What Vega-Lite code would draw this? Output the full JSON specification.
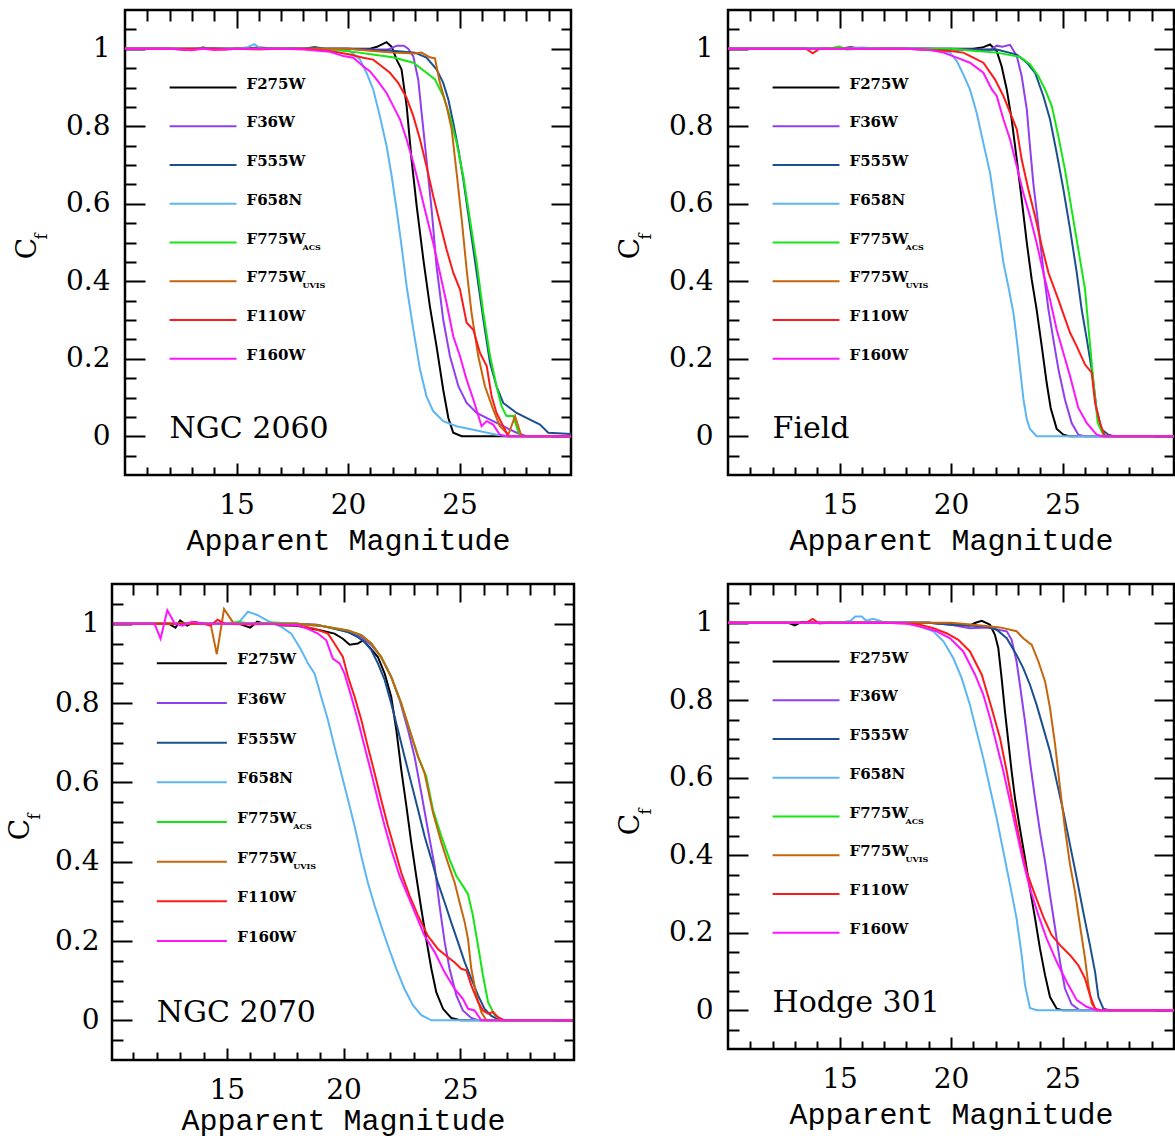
{
"$schema":"https://vega.github.io/schema/vega-lite/v6.json",
"padding":{"left":6,"top":7,"right":0,"bottom":6},
"config":{"view":{"stroke":"#000","strokeWidth":2.5},
"axis":{"domain":false,"grid":false,"tickColor":"#000","tickWidth":2,"labelColor":"#000","labelFont":"DejaVu Serif","labelFontSize":28,"titleFont":"DejaVu Serif","titleFontWeight":"normal","titleColor":"#000","titleFontSize":28,"zindex":1,"labelOverlap":false,"labelFlush":false}},
"datasets":{
"leg":[{"f":"F275W","t":"F275W","s":"","r":1},{"f":"F36W","t":"F36W","s":"","r":2},{"f":"F555W","t":"F555W","s":"","r":3},{"f":"F658N","t":"F658N","s":"","r":4},{"f":"F775W_ACS","t":"F775W","s":"ACS","r":5},{"f":"F775W_UVIS","t":"F775W","s":"UVIS","r":6},{"f":"F110W","t":"F110W","s":"","r":7},{"f":"F160W","t":"F160W","s":"","r":8}],
"cf":[
{"p":"A","f":"F275W","m":10,"c":1},{"p":"A","f":"F275W","m":12,"c":1},{"p":"A","f":"F275W","m":13,"c":0.997},{"p":"A","f":"F275W","m":13.5,"c":1.003},{"p":"A","f":"F275W","m":14,"c":0.998},{"p":"A","f":"F275W","m":15,"c":1},{"p":"A","f":"F275W","m":16,"c":1},{"p":"A","f":"F275W","m":17,"c":1.002},{"p":"A","f":"F275W","m":18,"c":1},{"p":"A","f":"F275W","m":18.5,"c":1.004},{"p":"A","f":"F275W","m":19,"c":1},{"p":"A","f":"F275W","m":20,"c":1},{"p":"A","f":"F275W","m":21,"c":1},{"p":"A","f":"F275W","m":21.3,"c":1.005},{"p":"A","f":"F275W","m":21.73,"c":1.017},{"p":"A","f":"F275W","m":21.96,"c":1.005},{"p":"A","f":"F275W","m":22.18,"c":0.972},{"p":"A","f":"F275W","m":22.4,"c":0.947},{"p":"A","f":"F275W","m":22.63,"c":0.852},{"p":"A","f":"F275W","m":22.85,"c":0.714},{"p":"A","f":"F275W","m":23.08,"c":0.594},{"p":"A","f":"F275W","m":23.38,"c":0.456},{"p":"A","f":"F275W","m":23.67,"c":0.336},{"p":"A","f":"F275W","m":23.97,"c":0.232},{"p":"A","f":"F275W","m":24.27,"c":0.12},{"p":"A","f":"F275W","m":24.5,"c":0.047},{"p":"A","f":"F275W","m":24.72,"c":0.009},{"p":"A","f":"F275W","m":25.1,"c":0},{"p":"A","f":"F275W","m":30,"c":0},
{"p":"A","f":"F36W","m":10,"c":1},{"p":"A","f":"F36W","m":13,"c":1},{"p":"A","f":"F36W","m":14,"c":1.002},{"p":"A","f":"F36W","m":15,"c":1},{"p":"A","f":"F36W","m":16,"c":1.002},{"p":"A","f":"F36W","m":17,"c":1},{"p":"A","f":"F36W","m":18,"c":1},{"p":"A","f":"F36W","m":19,"c":1},{"p":"A","f":"F36W","m":20,"c":1},{"p":"A","f":"F36W","m":21,"c":0.998},{"p":"A","f":"F36W","m":21.8,"c":0.998},{"p":"A","f":"F36W","m":22.2,"c":1.008},{"p":"A","f":"F36W","m":22.5,"c":1.008},{"p":"A","f":"F36W","m":22.7,"c":1},{"p":"A","f":"F36W","m":22.93,"c":0.98},{"p":"A","f":"F36W","m":23.15,"c":0.92},{"p":"A","f":"F36W","m":23.3,"c":0.835},{"p":"A","f":"F36W","m":23.52,"c":0.714},{"p":"A","f":"F36W","m":23.75,"c":0.585},{"p":"A","f":"F36W","m":23.97,"c":0.439},{"p":"A","f":"F36W","m":24.27,"c":0.301},{"p":"A","f":"F36W","m":24.57,"c":0.207},{"p":"A","f":"F36W","m":24.95,"c":0.129},{"p":"A","f":"F36W","m":25.32,"c":0.086},{"p":"A","f":"F36W","m":25.77,"c":0.06},{"p":"A","f":"F36W","m":26.37,"c":0.043},{"p":"A","f":"F36W","m":26.96,"c":0.026},{"p":"A","f":"F36W","m":27.56,"c":0.009},{"p":"A","f":"F36W","m":28,"c":0},{"p":"A","f":"F36W","m":30,"c":0},
{"p":"A","f":"F555W","m":10,"c":1},{"p":"A","f":"F555W","m":15,"c":1},{"p":"A","f":"F555W","m":16,"c":1.003},{"p":"A","f":"F555W","m":17,"c":1},{"p":"A","f":"F555W","m":18,"c":1},{"p":"A","f":"F555W","m":19,"c":1},{"p":"A","f":"F555W","m":20,"c":1},{"p":"A","f":"F555W","m":21,"c":0.997},{"p":"A","f":"F555W","m":22,"c":0.995},{"p":"A","f":"F555W","m":23,"c":0.99},{"p":"A","f":"F555W","m":23.52,"c":0.977},{"p":"A","f":"F555W","m":23.97,"c":0.947},{"p":"A","f":"F555W","m":24.27,"c":0.912},{"p":"A","f":"F555W","m":24.5,"c":0.869},{"p":"A","f":"F555W","m":24.72,"c":0.809},{"p":"A","f":"F555W","m":24.95,"c":0.74},{"p":"A","f":"F555W","m":25.17,"c":0.663},{"p":"A","f":"F555W","m":25.47,"c":0.542},{"p":"A","f":"F555W","m":25.77,"c":0.422},{"p":"A","f":"F555W","m":26.07,"c":0.301},{"p":"A","f":"F555W","m":26.37,"c":0.189},{"p":"A","f":"F555W","m":26.66,"c":0.129},{"p":"A","f":"F555W","m":26.96,"c":0.086},{"p":"A","f":"F555W","m":27.56,"c":0.06},{"p":"A","f":"F555W","m":28.16,"c":0.043},{"p":"A","f":"F555W","m":28.61,"c":0.03},{"p":"A","f":"F555W","m":28.98,"c":0.009},{"p":"A","f":"F555W","m":30,"c":0.006},
{"p":"A","f":"F658N","m":10,"c":1},{"p":"A","f":"F658N","m":14,"c":1},{"p":"A","f":"F658N","m":15,"c":1},{"p":"A","f":"F658N","m":15.5,"c":1.004},{"p":"A","f":"F658N","m":15.8,"c":1.012},{"p":"A","f":"F658N","m":16.1,"c":1},{"p":"A","f":"F658N","m":17,"c":1.002},{"p":"A","f":"F658N","m":18,"c":1},{"p":"A","f":"F658N","m":19,"c":1},{"p":"A","f":"F658N","m":20.09,"c":0.994},{"p":"A","f":"F658N","m":20.54,"c":0.972},{"p":"A","f":"F658N","m":20.83,"c":0.938},{"p":"A","f":"F658N","m":21.13,"c":0.895},{"p":"A","f":"F658N","m":21.43,"c":0.826},{"p":"A","f":"F658N","m":21.73,"c":0.749},{"p":"A","f":"F658N","m":21.96,"c":0.671},{"p":"A","f":"F658N","m":22.18,"c":0.585},{"p":"A","f":"F658N","m":22.4,"c":0.491},{"p":"A","f":"F658N","m":22.63,"c":0.387},{"p":"A","f":"F658N","m":22.93,"c":0.275},{"p":"A","f":"F658N","m":23.23,"c":0.172},{"p":"A","f":"F658N","m":23.52,"c":0.103},{"p":"A","f":"F658N","m":23.82,"c":0.065},{"p":"A","f":"F658N","m":24.27,"c":0.039},{"p":"A","f":"F658N","m":24.87,"c":0.026},{"p":"A","f":"F658N","m":25.62,"c":0.017},{"p":"A","f":"F658N","m":26.66,"c":0.004},{"p":"A","f":"F658N","m":27.2,"c":0},{"p":"A","f":"F658N","m":30,"c":0},
{"p":"A","f":"F775W_ACS","m":10,"c":1},{"p":"A","f":"F775W_ACS","m":15,"c":1},{"p":"A","f":"F775W_ACS","m":16,"c":1},{"p":"A","f":"F775W_ACS","m":17,"c":1},{"p":"A","f":"F775W_ACS","m":18,"c":1},{"p":"A","f":"F775W_ACS","m":19,"c":1},{"p":"A","f":"F775W_ACS","m":19.5,"c":0.997},{"p":"A","f":"F775W_ACS","m":20.5,"c":0.99},{"p":"A","f":"F775W_ACS","m":21.1,"c":0.985},{"p":"A","f":"F775W_ACS","m":22,"c":0.978},{"p":"A","f":"F775W_ACS","m":22.93,"c":0.964},{"p":"A","f":"F775W_ACS","m":23.52,"c":0.938},{"p":"A","f":"F775W_ACS","m":23.9,"c":0.921},{"p":"A","f":"F775W_ACS","m":24.27,"c":0.878},{"p":"A","f":"F775W_ACS","m":24.57,"c":0.826},{"p":"A","f":"F775W_ACS","m":24.87,"c":0.757},{"p":"A","f":"F775W_ACS","m":25.17,"c":0.671},{"p":"A","f":"F775W_ACS","m":25.47,"c":0.559},{"p":"A","f":"F775W_ACS","m":25.77,"c":0.448},{"p":"A","f":"F775W_ACS","m":26.07,"c":0.318},{"p":"A","f":"F775W_ACS","m":26.37,"c":0.207},{"p":"A","f":"F775W_ACS","m":26.66,"c":0.129},{"p":"A","f":"F775W_ACS","m":26.89,"c":0.077},{"p":"A","f":"F775W_ACS","m":27.11,"c":0.052},{"p":"A","f":"F775W_ACS","m":27.41,"c":0.052},{"p":"A","f":"F775W_ACS","m":27.7,"c":0},{"p":"A","f":"F775W_ACS","m":30,"c":0},
{"p":"A","f":"F775W_UVIS","m":10,"c":1},{"p":"A","f":"F775W_UVIS","m":15,"c":1},{"p":"A","f":"F775W_UVIS","m":16,"c":0.998},{"p":"A","f":"F775W_UVIS","m":17,"c":1},{"p":"A","f":"F775W_UVIS","m":18,"c":1},{"p":"A","f":"F775W_UVIS","m":19,"c":1},{"p":"A","f":"F775W_UVIS","m":20,"c":1},{"p":"A","f":"F775W_UVIS","m":21,"c":0.995},{"p":"A","f":"F775W_UVIS","m":22,"c":0.99},{"p":"A","f":"F775W_UVIS","m":23,"c":0.988},{"p":"A","f":"F775W_UVIS","m":23.3,"c":0.99},{"p":"A","f":"F775W_UVIS","m":23.67,"c":0.978},{"p":"A","f":"F775W_UVIS","m":23.9,"c":0.975},{"p":"A","f":"F775W_UVIS","m":24.12,"c":0.912},{"p":"A","f":"F775W_UVIS","m":24.42,"c":0.852},{"p":"A","f":"F775W_UVIS","m":24.65,"c":0.792},{"p":"A","f":"F775W_UVIS","m":24.87,"c":0.68},{"p":"A","f":"F775W_UVIS","m":25.1,"c":0.559},{"p":"A","f":"F775W_UVIS","m":25.32,"c":0.43},{"p":"A","f":"F775W_UVIS","m":25.54,"c":0.318},{"p":"A","f":"F775W_UVIS","m":25.84,"c":0.207},{"p":"A","f":"F775W_UVIS","m":26.14,"c":0.129},{"p":"A","f":"F775W_UVIS","m":26.51,"c":0.069},{"p":"A","f":"F775W_UVIS","m":26.81,"c":0.026},{"p":"A","f":"F775W_UVIS","m":27.19,"c":0.004},{"p":"A","f":"F775W_UVIS","m":27.49,"c":0.052},{"p":"A","f":"F775W_UVIS","m":27.78,"c":0},{"p":"A","f":"F775W_UVIS","m":30,"c":0},
{"p":"A","f":"F110W","m":10,"c":1},{"p":"A","f":"F110W","m":14,"c":1},{"p":"A","f":"F110W","m":14.5,"c":0.998},{"p":"A","f":"F110W","m":15,"c":1},{"p":"A","f":"F110W","m":16,"c":1},{"p":"A","f":"F110W","m":17,"c":1},{"p":"A","f":"F110W","m":18,"c":1},{"p":"A","f":"F110W","m":19.19,"c":0.994},{"p":"A","f":"F110W","m":20.09,"c":0.985},{"p":"A","f":"F110W","m":20.68,"c":0.977},{"p":"A","f":"F110W","m":21.13,"c":0.972},{"p":"A","f":"F110W","m":21.51,"c":0.955},{"p":"A","f":"F110W","m":21.88,"c":0.938},{"p":"A","f":"F110W","m":22.25,"c":0.912},{"p":"A","f":"F110W","m":22.63,"c":0.873},{"p":"A","f":"F110W","m":22.93,"c":0.826},{"p":"A","f":"F110W","m":23.23,"c":0.766},{"p":"A","f":"F110W","m":23.52,"c":0.697},{"p":"A","f":"F110W","m":23.82,"c":0.62},{"p":"A","f":"F110W","m":24.12,"c":0.551},{"p":"A","f":"F110W","m":24.42,"c":0.482},{"p":"A","f":"F110W","m":24.72,"c":0.422},{"p":"A","f":"F110W","m":25.02,"c":0.379},{"p":"A","f":"F110W","m":25.32,"c":0.293},{"p":"A","f":"F110W","m":25.62,"c":0.275},{"p":"A","f":"F110W","m":25.92,"c":0.215},{"p":"A","f":"F110W","m":26.22,"c":0.181},{"p":"A","f":"F110W","m":26.44,"c":0.103},{"p":"A","f":"F110W","m":26.66,"c":0.06},{"p":"A","f":"F110W","m":26.96,"c":0.026},{"p":"A","f":"F110W","m":27.19,"c":0},{"p":"A","f":"F110W","m":30,"c":0},
{"p":"A","f":"F160W","m":10,"c":1},{"p":"A","f":"F160W","m":12,"c":1},{"p":"A","f":"F160W","m":13,"c":0.996},{"p":"A","f":"F160W","m":13.5,"c":1},{"p":"A","f":"F160W","m":14,"c":0.997},{"p":"A","f":"F160W","m":15,"c":1},{"p":"A","f":"F160W","m":16,"c":1},{"p":"A","f":"F160W","m":17,"c":1},{"p":"A","f":"F160W","m":18,"c":0.998},{"p":"A","f":"F160W","m":19.19,"c":0.992},{"p":"A","f":"F160W","m":19.79,"c":0.981},{"p":"A","f":"F160W","m":20.24,"c":0.977},{"p":"A","f":"F160W","m":20.68,"c":0.955},{"p":"A","f":"F160W","m":20.98,"c":0.942},{"p":"A","f":"F160W","m":21.28,"c":0.921},{"p":"A","f":"F160W","m":21.73,"c":0.886},{"p":"A","f":"F160W","m":22.03,"c":0.852},{"p":"A","f":"F160W","m":22.33,"c":0.818},{"p":"A","f":"F160W","m":22.63,"c":0.766},{"p":"A","f":"F160W","m":22.93,"c":0.706},{"p":"A","f":"F160W","m":23.23,"c":0.637},{"p":"A","f":"F160W","m":23.52,"c":0.568},{"p":"A","f":"F160W","m":23.82,"c":0.499},{"p":"A","f":"F160W","m":24.12,"c":0.422},{"p":"A","f":"F160W","m":24.42,"c":0.344},{"p":"A","f":"F160W","m":24.72,"c":0.258},{"p":"A","f":"F160W","m":25.02,"c":0.207},{"p":"A","f":"F160W","m":25.32,"c":0.146},{"p":"A","f":"F160W","m":25.62,"c":0.095},{"p":"A","f":"F160W","m":25.99,"c":0.026},{"p":"A","f":"F160W","m":26.22,"c":0.039},{"p":"A","f":"F160W","m":26.51,"c":0.03},{"p":"A","f":"F160W","m":26.81,"c":0.004},{"p":"A","f":"F160W","m":27.1,"c":0},{"p":"A","f":"F160W","m":30,"c":0},

{"p":"B","f":"F275W","m":10,"c":1},{"p":"B","f":"F275W","m":14,"c":1},{"p":"B","f":"F275W","m":15,"c":1},{"p":"B","f":"F275W","m":15.5,"c":1.004},{"p":"B","f":"F275W","m":16,"c":1},{"p":"B","f":"F275W","m":17,"c":1},{"p":"B","f":"F275W","m":18,"c":1},{"p":"B","f":"F275W","m":19,"c":1},{"p":"B","f":"F275W","m":20,"c":1},{"p":"B","f":"F275W","m":21,"c":1},{"p":"B","f":"F275W","m":21.4,"c":1.003},{"p":"B","f":"F275W","m":21.75,"c":1.011},{"p":"B","f":"F275W","m":22.05,"c":0.994},{"p":"B","f":"F275W","m":22.27,"c":0.955},{"p":"B","f":"F275W","m":22.5,"c":0.895},{"p":"B","f":"F275W","m":22.72,"c":0.818},{"p":"B","f":"F275W","m":22.95,"c":0.714},{"p":"B","f":"F275W","m":23.17,"c":0.611},{"p":"B","f":"F275W","m":23.4,"c":0.499},{"p":"B","f":"F275W","m":23.62,"c":0.404},{"p":"B","f":"F275W","m":23.84,"c":0.327},{"p":"B","f":"F275W","m":24.07,"c":0.232},{"p":"B","f":"F275W","m":24.29,"c":0.138},{"p":"B","f":"F275W","m":24.47,"c":0.073},{"p":"B","f":"F275W","m":24.74,"c":0.019},{"p":"B","f":"F275W","m":25.04,"c":0.004},{"p":"B","f":"F275W","m":25.3,"c":0},{"p":"B","f":"F275W","m":30,"c":0},
{"p":"B","f":"F36W","m":10,"c":1},{"p":"B","f":"F36W","m":15,"c":1},{"p":"B","f":"F36W","m":16,"c":1},{"p":"B","f":"F36W","m":17,"c":1},{"p":"B","f":"F36W","m":18,"c":1},{"p":"B","f":"F36W","m":19,"c":1},{"p":"B","f":"F36W","m":20,"c":1},{"p":"B","f":"F36W","m":21,"c":0.998},{"p":"B","f":"F36W","m":21.8,"c":0.998},{"p":"B","f":"F36W","m":22.05,"c":1.008},{"p":"B","f":"F36W","m":22.3,"c":1.005},{"p":"B","f":"F36W","m":22.65,"c":1.01},{"p":"B","f":"F36W","m":22.95,"c":0.981},{"p":"B","f":"F36W","m":23.17,"c":0.929},{"p":"B","f":"F36W","m":23.4,"c":0.843},{"p":"B","f":"F36W","m":23.54,"c":0.749},{"p":"B","f":"F36W","m":23.69,"c":0.654},{"p":"B","f":"F36W","m":23.92,"c":0.542},{"p":"B","f":"F36W","m":24.14,"c":0.43},{"p":"B","f":"F36W","m":24.37,"c":0.327},{"p":"B","f":"F36W","m":24.59,"c":0.25},{"p":"B","f":"F36W","m":24.82,"c":0.172},{"p":"B","f":"F36W","m":25.11,"c":0.095},{"p":"B","f":"F36W","m":25.41,"c":0.034},{"p":"B","f":"F36W","m":25.71,"c":0.004},{"p":"B","f":"F36W","m":26,"c":0},{"p":"B","f":"F36W","m":30,"c":0},
{"p":"B","f":"F555W","m":10,"c":1},{"p":"B","f":"F555W","m":15,"c":1},{"p":"B","f":"F555W","m":16,"c":1},{"p":"B","f":"F555W","m":17,"c":1},{"p":"B","f":"F555W","m":18,"c":1},{"p":"B","f":"F555W","m":19,"c":1},{"p":"B","f":"F555W","m":20,"c":0.998},{"p":"B","f":"F555W","m":21,"c":0.997},{"p":"B","f":"F555W","m":22.05,"c":0.998},{"p":"B","f":"F555W","m":22.95,"c":0.985},{"p":"B","f":"F555W","m":23.4,"c":0.964},{"p":"B","f":"F555W","m":23.77,"c":0.938},{"p":"B","f":"F555W","m":24.14,"c":0.878},{"p":"B","f":"F555W","m":24.44,"c":0.818},{"p":"B","f":"F555W","m":24.74,"c":0.731},{"p":"B","f":"F555W","m":25.04,"c":0.637},{"p":"B","f":"F555W","m":25.34,"c":0.534},{"p":"B","f":"F555W","m":25.64,"c":0.422},{"p":"B","f":"F555W","m":25.86,"c":0.327},{"p":"B","f":"F555W","m":26.09,"c":0.25},{"p":"B","f":"F555W","m":26.31,"c":0.172},{"p":"B","f":"F555W","m":26.53,"c":0.069},{"p":"B","f":"F555W","m":26.76,"c":0.017},{"p":"B","f":"F555W","m":27.06,"c":0.004},{"p":"B","f":"F555W","m":27.3,"c":0},{"p":"B","f":"F555W","m":30,"c":0},
{"p":"B","f":"F658N","m":10,"c":1},{"p":"B","f":"F658N","m":15,"c":1},{"p":"B","f":"F658N","m":16,"c":1.003},{"p":"B","f":"F658N","m":17,"c":1},{"p":"B","f":"F658N","m":18,"c":1},{"p":"B","f":"F658N","m":19.06,"c":0.997},{"p":"B","f":"F658N","m":19.96,"c":0.99},{"p":"B","f":"F658N","m":20.26,"c":0.968},{"p":"B","f":"F658N","m":20.55,"c":0.934},{"p":"B","f":"F658N","m":20.85,"c":0.895},{"p":"B","f":"F658N","m":21.15,"c":0.835},{"p":"B","f":"F658N","m":21.45,"c":0.757},{"p":"B","f":"F658N","m":21.75,"c":0.68},{"p":"B","f":"F658N","m":21.97,"c":0.594},{"p":"B","f":"F658N","m":22.2,"c":0.508},{"p":"B","f":"F658N","m":22.35,"c":0.448},{"p":"B","f":"F658N","m":22.57,"c":0.387},{"p":"B","f":"F658N","m":22.8,"c":0.318},{"p":"B","f":"F658N","m":22.95,"c":0.25},{"p":"B","f":"F658N","m":23.1,"c":0.172},{"p":"B","f":"F658N","m":23.25,"c":0.095},{"p":"B","f":"F658N","m":23.4,"c":0.043},{"p":"B","f":"F658N","m":23.54,"c":0.019},{"p":"B","f":"F658N","m":23.84,"c":0},{"p":"B","f":"F658N","m":30,"c":0},
{"p":"B","f":"F775W_ACS","m":10,"c":1},{"p":"B","f":"F775W_ACS","m":14.5,"c":1},{"p":"B","f":"F775W_ACS","m":15,"c":1.006},{"p":"B","f":"F775W_ACS","m":15.3,"c":0.998},{"p":"B","f":"F775W_ACS","m":16,"c":1},{"p":"B","f":"F775W_ACS","m":17,"c":1},{"p":"B","f":"F775W_ACS","m":18,"c":1},{"p":"B","f":"F775W_ACS","m":19,"c":1},{"p":"B","f":"F775W_ACS","m":20,"c":1},{"p":"B","f":"F775W_ACS","m":21,"c":0.995},{"p":"B","f":"F775W_ACS","m":22.05,"c":0.99},{"p":"B","f":"F775W_ACS","m":23.1,"c":0.979},{"p":"B","f":"F775W_ACS","m":23.54,"c":0.96},{"p":"B","f":"F775W_ACS","m":23.92,"c":0.929},{"p":"B","f":"F775W_ACS","m":24.22,"c":0.895},{"p":"B","f":"F775W_ACS","m":24.52,"c":0.852},{"p":"B","f":"F775W_ACS","m":24.81,"c":0.775},{"p":"B","f":"F775W_ACS","m":25.11,"c":0.688},{"p":"B","f":"F775W_ACS","m":25.41,"c":0.585},{"p":"B","f":"F775W_ACS","m":25.71,"c":0.482},{"p":"B","f":"F775W_ACS","m":26.01,"c":0.379},{"p":"B","f":"F775W_ACS","m":26.2,"c":0.258},{"p":"B","f":"F775W_ACS","m":26.38,"c":0.146},{"p":"B","f":"F775W_ACS","m":26.58,"c":0.034},{"p":"B","f":"F775W_ACS","m":26.83,"c":0.004},{"p":"B","f":"F775W_ACS","m":27.1,"c":0},{"p":"B","f":"F775W_ACS","m":30,"c":0},
{"p":"B","f":"F110W","m":10,"c":1},{"p":"B","f":"F110W","m":13.5,"c":1},{"p":"B","f":"F110W","m":13.8,"c":0.988},{"p":"B","f":"F110W","m":14.1,"c":1},{"p":"B","f":"F110W","m":15,"c":1},{"p":"B","f":"F110W","m":16,"c":1},{"p":"B","f":"F110W","m":17,"c":1},{"p":"B","f":"F110W","m":18,"c":1},{"p":"B","f":"F110W","m":19.06,"c":0.997},{"p":"B","f":"F110W","m":19.96,"c":0.994},{"p":"B","f":"F110W","m":20.55,"c":0.99},{"p":"B","f":"F110W","m":21,"c":0.977},{"p":"B","f":"F110W","m":21.45,"c":0.964},{"p":"B","f":"F110W","m":21.97,"c":0.921},{"p":"B","f":"F110W","m":22.35,"c":0.878},{"p":"B","f":"F110W","m":22.65,"c":0.835},{"p":"B","f":"F110W","m":22.95,"c":0.792},{"p":"B","f":"F110W","m":23.17,"c":0.714},{"p":"B","f":"F110W","m":23.47,"c":0.637},{"p":"B","f":"F110W","m":23.77,"c":0.568},{"p":"B","f":"F110W","m":24.07,"c":0.491},{"p":"B","f":"F110W","m":24.37,"c":0.422},{"p":"B","f":"F110W","m":24.81,"c":0.353},{"p":"B","f":"F110W","m":25.34,"c":0.267},{"p":"B","f":"F110W","m":25.64,"c":0.232},{"p":"B","f":"F110W","m":26.01,"c":0.185},{"p":"B","f":"F110W","m":26.31,"c":0.164},{"p":"B","f":"F110W","m":26.46,"c":0.086},{"p":"B","f":"F110W","m":26.68,"c":0.034},{"p":"B","f":"F110W","m":26.9,"c":0},{"p":"B","f":"F110W","m":30,"c":0},
{"p":"B","f":"F160W","m":10,"c":1},{"p":"B","f":"F160W","m":15,"c":1},{"p":"B","f":"F160W","m":16,"c":1},{"p":"B","f":"F160W","m":17,"c":1},{"p":"B","f":"F160W","m":18,"c":1},{"p":"B","f":"F160W","m":19.06,"c":0.997},{"p":"B","f":"F160W","m":19.66,"c":0.99},{"p":"B","f":"F160W","m":20.26,"c":0.977},{"p":"B","f":"F160W","m":20.85,"c":0.964},{"p":"B","f":"F160W","m":21.45,"c":0.938},{"p":"B","f":"F160W","m":21.83,"c":0.895},{"p":"B","f":"F160W","m":22.05,"c":0.878},{"p":"B","f":"F160W","m":22.35,"c":0.818},{"p":"B","f":"F160W","m":22.65,"c":0.766},{"p":"B","f":"F160W","m":22.95,"c":0.697},{"p":"B","f":"F160W","m":23.24,"c":0.628},{"p":"B","f":"F160W","m":23.54,"c":0.568},{"p":"B","f":"F160W","m":23.84,"c":0.499},{"p":"B","f":"F160W","m":24.14,"c":0.422},{"p":"B","f":"F160W","m":24.44,"c":0.353},{"p":"B","f":"F160W","m":24.74,"c":0.275},{"p":"B","f":"F160W","m":25.04,"c":0.215},{"p":"B","f":"F160W","m":25.34,"c":0.155},{"p":"B","f":"F160W","m":25.71,"c":0.073},{"p":"B","f":"F160W","m":26.09,"c":0.034},{"p":"B","f":"F160W","m":26.53,"c":0.004},{"p":"B","f":"F160W","m":26.8,"c":0},{"p":"B","f":"F160W","m":30,"c":0},

{"p":"C","f":"F275W","m":10.08,"c":1},{"p":"C","f":"F275W","m":12,"c":1},{"p":"C","f":"F275W","m":12.5,"c":1},{"p":"C","f":"F275W","m":12.8,"c":0.99},{"p":"C","f":"F275W","m":13,"c":1.008},{"p":"C","f":"F275W","m":13.3,"c":0.995},{"p":"C","f":"F275W","m":13.6,"c":1.004},{"p":"C","f":"F275W","m":14,"c":1},{"p":"C","f":"F275W","m":15,"c":1},{"p":"C","f":"F275W","m":15.5,"c":1},{"p":"C","f":"F275W","m":16,"c":0.99},{"p":"C","f":"F275W","m":16.3,"c":1.005},{"p":"C","f":"F275W","m":16.6,"c":1},{"p":"C","f":"F275W","m":17,"c":1},{"p":"C","f":"F275W","m":17.33,"c":0.996},{"p":"C","f":"F275W","m":18,"c":0.995},{"p":"C","f":"F275W","m":19.04,"c":0.983},{"p":"C","f":"F275W","m":19.61,"c":0.975},{"p":"C","f":"F275W","m":19.97,"c":0.962},{"p":"C","f":"F275W","m":20.26,"c":0.947},{"p":"C","f":"F275W","m":20.61,"c":0.95},{"p":"C","f":"F275W","m":20.83,"c":0.958},{"p":"C","f":"F275W","m":21.11,"c":0.941},{"p":"C","f":"F275W","m":21.47,"c":0.916},{"p":"C","f":"F275W","m":21.76,"c":0.874},{"p":"C","f":"F275W","m":22.04,"c":0.816},{"p":"C","f":"F275W","m":22.26,"c":0.732},{"p":"C","f":"F275W","m":22.47,"c":0.632},{"p":"C","f":"F275W","m":22.69,"c":0.54},{"p":"C","f":"F275W","m":22.9,"c":0.448},{"p":"C","f":"F275W","m":23.11,"c":0.364},{"p":"C","f":"F275W","m":23.33,"c":0.28},{"p":"C","f":"F275W","m":23.54,"c":0.205},{"p":"C","f":"F275W","m":23.76,"c":0.13},{"p":"C","f":"F275W","m":23.97,"c":0.071},{"p":"C","f":"F275W","m":24.26,"c":0.029},{"p":"C","f":"F275W","m":24.61,"c":0.006},{"p":"C","f":"F275W","m":25,"c":0},{"p":"C","f":"F275W","m":29.87,"c":0},
{"p":"C","f":"F36W","m":10.08,"c":1},{"p":"C","f":"F36W","m":15,"c":1},{"p":"C","f":"F36W","m":16,"c":1},{"p":"C","f":"F36W","m":17,"c":1},{"p":"C","f":"F36W","m":18,"c":1},{"p":"C","f":"F36W","m":18.8,"c":0.998},{"p":"C","f":"F36W","m":19.47,"c":0.99},{"p":"C","f":"F36W","m":20.19,"c":0.979},{"p":"C","f":"F36W","m":20.76,"c":0.966},{"p":"C","f":"F36W","m":21.19,"c":0.946},{"p":"C","f":"F36W","m":21.61,"c":0.916},{"p":"C","f":"F36W","m":22.04,"c":0.866},{"p":"C","f":"F36W","m":22.4,"c":0.808},{"p":"C","f":"F36W","m":22.76,"c":0.732},{"p":"C","f":"F36W","m":23.04,"c":0.665},{"p":"C","f":"F36W","m":23.33,"c":0.573},{"p":"C","f":"F36W","m":23.61,"c":0.481},{"p":"C","f":"F36W","m":23.9,"c":0.389},{"p":"C","f":"F36W","m":24.11,"c":0.289},{"p":"C","f":"F36W","m":24.33,"c":0.197},{"p":"C","f":"F36W","m":24.54,"c":0.13},{"p":"C","f":"F36W","m":24.83,"c":0.063},{"p":"C","f":"F36W","m":25.11,"c":0.025},{"p":"C","f":"F36W","m":25.47,"c":0.006},{"p":"C","f":"F36W","m":25.8,"c":0},{"p":"C","f":"F36W","m":29.87,"c":0},
{"p":"C","f":"F555W","m":10.08,"c":1},{"p":"C","f":"F555W","m":15,"c":1},{"p":"C","f":"F555W","m":16,"c":1},{"p":"C","f":"F555W","m":17,"c":1},{"p":"C","f":"F555W","m":18,"c":1},{"p":"C","f":"F555W","m":19,"c":0.995},{"p":"C","f":"F555W","m":20.19,"c":0.979},{"p":"C","f":"F555W","m":20.61,"c":0.966},{"p":"C","f":"F555W","m":20.9,"c":0.954},{"p":"C","f":"F555W","m":21.19,"c":0.933},{"p":"C","f":"F555W","m":21.47,"c":0.9},{"p":"C","f":"F555W","m":21.76,"c":0.858},{"p":"C","f":"F555W","m":22.04,"c":0.799},{"p":"C","f":"F555W","m":22.33,"c":0.732},{"p":"C","f":"F555W","m":22.61,"c":0.665},{"p":"C","f":"F555W","m":22.9,"c":0.598},{"p":"C","f":"F555W","m":23.19,"c":0.531},{"p":"C","f":"F555W","m":23.47,"c":0.464},{"p":"C","f":"F555W","m":23.76,"c":0.406},{"p":"C","f":"F555W","m":24.04,"c":0.347},{"p":"C","f":"F555W","m":24.33,"c":0.297},{"p":"C","f":"F555W","m":24.61,"c":0.247},{"p":"C","f":"F555W","m":24.9,"c":0.197},{"p":"C","f":"F555W","m":25.19,"c":0.146},{"p":"C","f":"F555W","m":25.47,"c":0.105},{"p":"C","f":"F555W","m":25.76,"c":0.063},{"p":"C","f":"F555W","m":26.04,"c":0.029},{"p":"C","f":"F555W","m":26.33,"c":0.011},{"p":"C","f":"F555W","m":26.7,"c":0},{"p":"C","f":"F555W","m":29.87,"c":0},
{"p":"C","f":"F658N","m":10.08,"c":1},{"p":"C","f":"F658N","m":14,"c":1},{"p":"C","f":"F658N","m":15,"c":1},{"p":"C","f":"F658N","m":15.5,"c":1.002},{"p":"C","f":"F658N","m":15.9,"c":1.03},{"p":"C","f":"F658N","m":16.3,"c":1.022},{"p":"C","f":"F658N","m":16.6,"c":1.012},{"p":"C","f":"F658N","m":17,"c":1},{"p":"C","f":"F658N","m":17.33,"c":0.992},{"p":"C","f":"F658N","m":17.76,"c":0.975},{"p":"C","f":"F658N","m":18.19,"c":0.933},{"p":"C","f":"F658N","m":18.47,"c":0.9},{"p":"C","f":"F658N","m":18.76,"c":0.874},{"p":"C","f":"F658N","m":19.04,"c":0.816},{"p":"C","f":"F658N","m":19.33,"c":0.757},{"p":"C","f":"F658N","m":19.61,"c":0.69},{"p":"C","f":"F658N","m":19.9,"c":0.623},{"p":"C","f":"F658N","m":20.19,"c":0.556},{"p":"C","f":"F658N","m":20.47,"c":0.49},{"p":"C","f":"F658N","m":20.76,"c":0.414},{"p":"C","f":"F658N","m":21.04,"c":0.347},{"p":"C","f":"F658N","m":21.33,"c":0.289},{"p":"C","f":"F658N","m":21.61,"c":0.238},{"p":"C","f":"F658N","m":21.9,"c":0.188},{"p":"C","f":"F658N","m":22.26,"c":0.13},{"p":"C","f":"F658N","m":22.61,"c":0.079},{"p":"C","f":"F658N","m":22.97,"c":0.038},{"p":"C","f":"F658N","m":23.33,"c":0.013},{"p":"C","f":"F658N","m":23.76,"c":0},{"p":"C","f":"F658N","m":29.87,"c":0},
{"p":"C","f":"F775W_ACS","m":10.08,"c":1},{"p":"C","f":"F775W_ACS","m":15,"c":1},{"p":"C","f":"F775W_ACS","m":15.5,"c":1.005},{"p":"C","f":"F775W_ACS","m":16,"c":1},{"p":"C","f":"F775W_ACS","m":17,"c":1.003},{"p":"C","f":"F775W_ACS","m":18,"c":1},{"p":"C","f":"F775W_ACS","m":19,"c":0.995},{"p":"C","f":"F775W_ACS","m":20.19,"c":0.983},{"p":"C","f":"F775W_ACS","m":20.76,"c":0.971},{"p":"C","f":"F775W_ACS","m":21.19,"c":0.95},{"p":"C","f":"F775W_ACS","m":21.61,"c":0.916},{"p":"C","f":"F775W_ACS","m":22.04,"c":0.866},{"p":"C","f":"F775W_ACS","m":22.47,"c":0.799},{"p":"C","f":"F775W_ACS","m":22.83,"c":0.732},{"p":"C","f":"F775W_ACS","m":23.19,"c":0.665},{"p":"C","f":"F775W_ACS","m":23.54,"c":0.615},{"p":"C","f":"F775W_ACS","m":23.83,"c":0.531},{"p":"C","f":"F775W_ACS","m":24.19,"c":0.464},{"p":"C","f":"F775W_ACS","m":24.54,"c":0.406},{"p":"C","f":"F775W_ACS","m":24.83,"c":0.364},{"p":"C","f":"F775W_ACS","m":25.11,"c":0.339},{"p":"C","f":"F775W_ACS","m":25.33,"c":0.318},{"p":"C","f":"F775W_ACS","m":25.54,"c":0.264},{"p":"C","f":"F775W_ACS","m":25.76,"c":0.188},{"p":"C","f":"F775W_ACS","m":25.97,"c":0.113},{"p":"C","f":"F775W_ACS","m":26.19,"c":0.046},{"p":"C","f":"F775W_ACS","m":26.47,"c":0.013},{"p":"C","f":"F775W_ACS","m":26.8,"c":0},{"p":"C","f":"F775W_ACS","m":29.87,"c":0},
{"p":"C","f":"F775W_UVIS","m":10.08,"c":1},{"p":"C","f":"F775W_UVIS","m":13,"c":1},{"p":"C","f":"F775W_UVIS","m":14.3,"c":1},{"p":"C","f":"F775W_UVIS","m":14.57,"c":0.923},{"p":"C","f":"F775W_UVIS","m":14.88,"c":1.037},{"p":"C","f":"F775W_UVIS","m":15.3,"c":1},{"p":"C","f":"F775W_UVIS","m":16,"c":1},{"p":"C","f":"F775W_UVIS","m":17,"c":1},{"p":"C","f":"F775W_UVIS","m":18,"c":1},{"p":"C","f":"F775W_UVIS","m":19,"c":0.995},{"p":"C","f":"F775W_UVIS","m":20.19,"c":0.983},{"p":"C","f":"F775W_UVIS","m":20.76,"c":0.971},{"p":"C","f":"F775W_UVIS","m":21.19,"c":0.95},{"p":"C","f":"F775W_UVIS","m":21.61,"c":0.916},{"p":"C","f":"F775W_UVIS","m":22.04,"c":0.866},{"p":"C","f":"F775W_UVIS","m":22.47,"c":0.799},{"p":"C","f":"F775W_UVIS","m":22.83,"c":0.732},{"p":"C","f":"F775W_UVIS","m":23.19,"c":0.665},{"p":"C","f":"F775W_UVIS","m":23.47,"c":0.623},{"p":"C","f":"F775W_UVIS","m":23.83,"c":0.523},{"p":"C","f":"F775W_UVIS","m":24.19,"c":0.448},{"p":"C","f":"F775W_UVIS","m":24.47,"c":0.397},{"p":"C","f":"F775W_UVIS","m":24.76,"c":0.347},{"p":"C","f":"F775W_UVIS","m":24.97,"c":0.297},{"p":"C","f":"F775W_UVIS","m":25.19,"c":0.247},{"p":"C","f":"F775W_UVIS","m":25.33,"c":0.205},{"p":"C","f":"F775W_UVIS","m":25.47,"c":0.13},{"p":"C","f":"F775W_UVIS","m":25.69,"c":0.063},{"p":"C","f":"F775W_UVIS","m":25.9,"c":0.021},{"p":"C","f":"F775W_UVIS","m":26.11,"c":0},{"p":"C","f":"F775W_UVIS","m":29.87,"c":0},
{"p":"C","f":"F110W","m":10.08,"c":1},{"p":"C","f":"F110W","m":13,"c":1},{"p":"C","f":"F110W","m":14,"c":1},{"p":"C","f":"F110W","m":14.3,"c":0.995},{"p":"C","f":"F110W","m":14.6,"c":1.01},{"p":"C","f":"F110W","m":14.9,"c":1},{"p":"C","f":"F110W","m":16,"c":0.998},{"p":"C","f":"F110W","m":17,"c":1},{"p":"C","f":"F110W","m":17.33,"c":0.996},{"p":"C","f":"F110W","m":18,"c":0.996},{"p":"C","f":"F110W","m":18.76,"c":0.987},{"p":"C","f":"F110W","m":19.33,"c":0.975},{"p":"C","f":"F110W","m":19.61,"c":0.95},{"p":"C","f":"F110W","m":19.97,"c":0.916},{"p":"C","f":"F110W","m":20.19,"c":0.866},{"p":"C","f":"F110W","m":20.47,"c":0.816},{"p":"C","f":"F110W","m":20.76,"c":0.757},{"p":"C","f":"F110W","m":21.04,"c":0.69},{"p":"C","f":"F110W","m":21.33,"c":0.623},{"p":"C","f":"F110W","m":21.61,"c":0.556},{"p":"C","f":"F110W","m":21.9,"c":0.49},{"p":"C","f":"F110W","m":22.19,"c":0.431},{"p":"C","f":"F110W","m":22.47,"c":0.372},{"p":"C","f":"F110W","m":22.83,"c":0.314},{"p":"C","f":"F110W","m":23.19,"c":0.264},{"p":"C","f":"F110W","m":23.61,"c":0.213},{"p":"C","f":"F110W","m":24.04,"c":0.18},{"p":"C","f":"F110W","m":24.47,"c":0.159},{"p":"C","f":"F110W","m":24.76,"c":0.146},{"p":"C","f":"F110W","m":25.04,"c":0.13},{"p":"C","f":"F110W","m":25.26,"c":0.126},{"p":"C","f":"F110W","m":25.47,"c":0.088},{"p":"C","f":"F110W","m":25.76,"c":0.046},{"p":"C","f":"F110W","m":25.97,"c":0.025},{"p":"C","f":"F110W","m":26.19,"c":0.017},{"p":"C","f":"F110W","m":26.4,"c":0.021},{"p":"C","f":"F110W","m":26.61,"c":0.008},{"p":"C","f":"F110W","m":26.9,"c":0},{"p":"C","f":"F110W","m":29.87,"c":0},
{"p":"C","f":"F160W","m":10.08,"c":1},{"p":"C","f":"F160W","m":11.9,"c":1},{"p":"C","f":"F160W","m":12.16,"c":0.962},{"p":"C","f":"F160W","m":12.45,"c":1.034},{"p":"C","f":"F160W","m":12.77,"c":1},{"p":"C","f":"F160W","m":13.1,"c":0.995},{"p":"C","f":"F160W","m":13.5,"c":1.005},{"p":"C","f":"F160W","m":14,"c":1},{"p":"C","f":"F160W","m":15,"c":1},{"p":"C","f":"F160W","m":16,"c":1},{"p":"C","f":"F160W","m":17,"c":1},{"p":"C","f":"F160W","m":18.04,"c":0.996},{"p":"C","f":"F160W","m":18.47,"c":0.987},{"p":"C","f":"F160W","m":18.9,"c":0.975},{"p":"C","f":"F160W","m":19.26,"c":0.958},{"p":"C","f":"F160W","m":19.54,"c":0.912},{"p":"C","f":"F160W","m":19.83,"c":0.9},{"p":"C","f":"F160W","m":20.04,"c":0.874},{"p":"C","f":"F160W","m":20.33,"c":0.816},{"p":"C","f":"F160W","m":20.61,"c":0.757},{"p":"C","f":"F160W","m":20.9,"c":0.69},{"p":"C","f":"F160W","m":21.19,"c":0.623},{"p":"C","f":"F160W","m":21.47,"c":0.556},{"p":"C","f":"F160W","m":21.76,"c":0.49},{"p":"C","f":"F160W","m":22.04,"c":0.431},{"p":"C","f":"F160W","m":22.4,"c":0.364},{"p":"C","f":"F160W","m":22.76,"c":0.314},{"p":"C","f":"F160W","m":23.11,"c":0.264},{"p":"C","f":"F160W","m":23.47,"c":0.213},{"p":"C","f":"F160W","m":23.9,"c":0.172},{"p":"C","f":"F160W","m":24.33,"c":0.121},{"p":"C","f":"F160W","m":24.76,"c":0.079},{"p":"C","f":"F160W","m":25.11,"c":0.054},{"p":"C","f":"F160W","m":25.33,"c":0.029},{"p":"C","f":"F160W","m":25.61,"c":0.025},{"p":"C","f":"F160W","m":25.9,"c":0},{"p":"C","f":"F160W","m":29.87,"c":0},

{"p":"D","f":"F275W","m":10,"c":1},{"p":"D","f":"F275W","m":12,"c":1},{"p":"D","f":"F275W","m":12.7,"c":1},{"p":"D","f":"F275W","m":13,"c":0.993},{"p":"D","f":"F275W","m":13.3,"c":1.002},{"p":"D","f":"F275W","m":14,"c":1},{"p":"D","f":"F275W","m":15,"c":1},{"p":"D","f":"F275W","m":16,"c":1},{"p":"D","f":"F275W","m":17,"c":1},{"p":"D","f":"F275W","m":18,"c":1},{"p":"D","f":"F275W","m":19,"c":1},{"p":"D","f":"F275W","m":20,"c":0.997},{"p":"D","f":"F275W","m":20.85,"c":0.993},{"p":"D","f":"F275W","m":21.1,"c":1},{"p":"D","f":"F275W","m":21.38,"c":1.005},{"p":"D","f":"F275W","m":21.75,"c":0.995},{"p":"D","f":"F275W","m":21.97,"c":0.969},{"p":"D","f":"F275W","m":22.12,"c":0.935},{"p":"D","f":"F275W","m":22.27,"c":0.857},{"p":"D","f":"F275W","m":22.42,"c":0.771},{"p":"D","f":"F275W","m":22.57,"c":0.693},{"p":"D","f":"F275W","m":22.72,"c":0.616},{"p":"D","f":"F275W","m":22.87,"c":0.547},{"p":"D","f":"F275W","m":23.09,"c":0.469},{"p":"D","f":"F275W","m":23.32,"c":0.392},{"p":"D","f":"F275W","m":23.54,"c":0.314},{"p":"D","f":"F275W","m":23.77,"c":0.237},{"p":"D","f":"F275W","m":23.99,"c":0.159},{"p":"D","f":"F275W","m":24.22,"c":0.09},{"p":"D","f":"F275W","m":24.44,"c":0.034},{"p":"D","f":"F275W","m":24.74,"c":0.004},{"p":"D","f":"F275W","m":25,"c":0},{"p":"D","f":"F275W","m":30,"c":0},
{"p":"D","f":"F36W","m":10,"c":1},{"p":"D","f":"F36W","m":15,"c":1},{"p":"D","f":"F36W","m":16,"c":1},{"p":"D","f":"F36W","m":17,"c":1},{"p":"D","f":"F36W","m":18,"c":1},{"p":"D","f":"F36W","m":19,"c":1},{"p":"D","f":"F36W","m":20,"c":0.995},{"p":"D","f":"F36W","m":20.85,"c":0.986},{"p":"D","f":"F36W","m":21.6,"c":0.988},{"p":"D","f":"F36W","m":22.5,"c":0.978},{"p":"D","f":"F36W","m":22.72,"c":0.956},{"p":"D","f":"F36W","m":22.94,"c":0.9},{"p":"D","f":"F36W","m":23.09,"c":0.84},{"p":"D","f":"F36W","m":23.32,"c":0.745},{"p":"D","f":"F36W","m":23.54,"c":0.642},{"p":"D","f":"F36W","m":23.77,"c":0.547},{"p":"D","f":"F36W","m":23.99,"c":0.461},{"p":"D","f":"F36W","m":24.22,"c":0.383},{"p":"D","f":"F36W","m":24.44,"c":0.297},{"p":"D","f":"F36W","m":24.67,"c":0.211},{"p":"D","f":"F36W","m":24.89,"c":0.125},{"p":"D","f":"F36W","m":25.11,"c":0.056},{"p":"D","f":"F36W","m":25.41,"c":0.015},{"p":"D","f":"F36W","m":25.78,"c":0},{"p":"D","f":"F36W","m":30,"c":0},
{"p":"D","f":"F555W","m":10,"c":1},{"p":"D","f":"F555W","m":15,"c":1},{"p":"D","f":"F555W","m":16,"c":1},{"p":"D","f":"F555W","m":17,"c":1},{"p":"D","f":"F555W","m":18,"c":1},{"p":"D","f":"F555W","m":19,"c":1},{"p":"D","f":"F555W","m":20,"c":0.995},{"p":"D","f":"F555W","m":21,"c":0.992},{"p":"D","f":"F555W","m":21.6,"c":0.99},{"p":"D","f":"F555W","m":22.05,"c":0.982},{"p":"D","f":"F555W","m":22.5,"c":0.96},{"p":"D","f":"F555W","m":22.94,"c":0.917},{"p":"D","f":"F555W","m":23.24,"c":0.883},{"p":"D","f":"F555W","m":23.54,"c":0.84},{"p":"D","f":"F555W","m":23.84,"c":0.788},{"p":"D","f":"F555W","m":24.14,"c":0.728},{"p":"D","f":"F555W","m":24.44,"c":0.668},{"p":"D","f":"F555W","m":24.74,"c":0.59},{"p":"D","f":"F555W","m":25.04,"c":0.512},{"p":"D","f":"F555W","m":25.34,"c":0.426},{"p":"D","f":"F555W","m":25.64,"c":0.34},{"p":"D","f":"F555W","m":25.93,"c":0.254},{"p":"D","f":"F555W","m":26.23,"c":0.168},{"p":"D","f":"F555W","m":26.46,"c":0.099},{"p":"D","f":"F555W","m":26.61,"c":0.034},{"p":"D","f":"F555W","m":26.83,"c":0.004},{"p":"D","f":"F555W","m":27.1,"c":0},{"p":"D","f":"F555W","m":30,"c":0},
{"p":"D","f":"F658N","m":10,"c":1},{"p":"D","f":"F658N","m":15,"c":1},{"p":"D","f":"F658N","m":15.5,"c":1.005},{"p":"D","f":"F658N","m":15.7,"c":1.016},{"p":"D","f":"F658N","m":16,"c":1.016},{"p":"D","f":"F658N","m":16.2,"c":1.005},{"p":"D","f":"F658N","m":16.5,"c":1.01},{"p":"D","f":"F658N","m":16.8,"c":1.005},{"p":"D","f":"F658N","m":17,"c":1},{"p":"D","f":"F658N","m":18,"c":1},{"p":"D","f":"F658N","m":18.61,"c":0.99},{"p":"D","f":"F658N","m":19.21,"c":0.978},{"p":"D","f":"F658N","m":19.66,"c":0.952},{"p":"D","f":"F658N","m":20.1,"c":0.909},{"p":"D","f":"F658N","m":20.48,"c":0.857},{"p":"D","f":"F658N","m":20.85,"c":0.788},{"p":"D","f":"F658N","m":21.15,"c":0.719},{"p":"D","f":"F658N","m":21.45,"c":0.65},{"p":"D","f":"F658N","m":21.75,"c":0.573},{"p":"D","f":"F658N","m":22.05,"c":0.495},{"p":"D","f":"F658N","m":22.35,"c":0.409},{"p":"D","f":"F658N","m":22.65,"c":0.323},{"p":"D","f":"F658N","m":22.94,"c":0.237},{"p":"D","f":"F658N","m":23.17,"c":0.142},{"p":"D","f":"F658N","m":23.32,"c":0.065},{"p":"D","f":"F658N","m":23.54,"c":0.006},{"p":"D","f":"F658N","m":23.84,"c":0},{"p":"D","f":"F658N","m":30,"c":0},
{"p":"D","f":"F775W_UVIS","m":10,"c":1},{"p":"D","f":"F775W_UVIS","m":15,"c":1},{"p":"D","f":"F775W_UVIS","m":16,"c":1},{"p":"D","f":"F775W_UVIS","m":17,"c":1},{"p":"D","f":"F775W_UVIS","m":18,"c":1},{"p":"D","f":"F775W_UVIS","m":19,"c":1},{"p":"D","f":"F775W_UVIS","m":20,"c":1},{"p":"D","f":"F775W_UVIS","m":21,"c":0.995},{"p":"D","f":"F775W_UVIS","m":22.2,"c":0.988},{"p":"D","f":"F775W_UVIS","m":22.94,"c":0.978},{"p":"D","f":"F775W_UVIS","m":23.24,"c":0.96},{"p":"D","f":"F775W_UVIS","m":23.62,"c":0.943},{"p":"D","f":"F775W_UVIS","m":23.92,"c":0.9},{"p":"D","f":"F775W_UVIS","m":24.22,"c":0.848},{"p":"D","f":"F775W_UVIS","m":24.44,"c":0.78},{"p":"D","f":"F775W_UVIS","m":24.67,"c":0.685},{"p":"D","f":"F775W_UVIS","m":24.89,"c":0.573},{"p":"D","f":"F775W_UVIS","m":25.11,"c":0.469},{"p":"D","f":"F775W_UVIS","m":25.34,"c":0.375},{"p":"D","f":"F775W_UVIS","m":25.56,"c":0.306},{"p":"D","f":"F775W_UVIS","m":25.78,"c":0.22},{"p":"D","f":"F775W_UVIS","m":26.01,"c":0.134},{"p":"D","f":"F775W_UVIS","m":26.16,"c":0.065},{"p":"D","f":"F775W_UVIS","m":26.31,"c":0.017},{"p":"D","f":"F775W_UVIS","m":26.53,"c":0},{"p":"D","f":"F775W_UVIS","m":30,"c":0},
{"p":"D","f":"F110W","m":10,"c":1},{"p":"D","f":"F110W","m":13.5,"c":1},{"p":"D","f":"F110W","m":13.8,"c":1.01},{"p":"D","f":"F110W","m":14.1,"c":0.998},{"p":"D","f":"F110W","m":14.5,"c":1},{"p":"D","f":"F110W","m":15,"c":1},{"p":"D","f":"F110W","m":16,"c":1},{"p":"D","f":"F110W","m":17,"c":1},{"p":"D","f":"F110W","m":18,"c":0.998},{"p":"D","f":"F110W","m":18.61,"c":0.995},{"p":"D","f":"F110W","m":19.21,"c":0.986},{"p":"D","f":"F110W","m":19.8,"c":0.973},{"p":"D","f":"F110W","m":20.33,"c":0.956},{"p":"D","f":"F110W","m":20.85,"c":0.926},{"p":"D","f":"F110W","m":21.38,"c":0.866},{"p":"D","f":"F110W","m":21.82,"c":0.78},{"p":"D","f":"F110W","m":22.2,"c":0.702},{"p":"D","f":"F110W","m":22.5,"c":0.616},{"p":"D","f":"F110W","m":22.8,"c":0.521},{"p":"D","f":"F110W","m":23.09,"c":0.435},{"p":"D","f":"F110W","m":23.39,"c":0.357},{"p":"D","f":"F110W","m":23.77,"c":0.297},{"p":"D","f":"F110W","m":24.14,"c":0.241},{"p":"D","f":"F110W","m":24.51,"c":0.194},{"p":"D","f":"F110W","m":24.89,"c":0.168},{"p":"D","f":"F110W","m":25.34,"c":0.142},{"p":"D","f":"F110W","m":25.71,"c":0.116},{"p":"D","f":"F110W","m":26.01,"c":0.082},{"p":"D","f":"F110W","m":26.23,"c":0.039},{"p":"D","f":"F110W","m":26.46,"c":0.004},{"p":"D","f":"F110W","m":26.7,"c":0},{"p":"D","f":"F110W","m":30,"c":0},
{"p":"D","f":"F160W","m":10,"c":1},{"p":"D","f":"F160W","m":15,"c":1},{"p":"D","f":"F160W","m":16,"c":1},{"p":"D","f":"F160W","m":17,"c":1},{"p":"D","f":"F160W","m":18,"c":0.998},{"p":"D","f":"F160W","m":18.61,"c":0.99},{"p":"D","f":"F160W","m":19.36,"c":0.978},{"p":"D","f":"F160W","m":19.96,"c":0.96},{"p":"D","f":"F160W","m":20.55,"c":0.926},{"p":"D","f":"F160W","m":21.08,"c":0.866},{"p":"D","f":"F160W","m":21.45,"c":0.814},{"p":"D","f":"F160W","m":21.75,"c":0.754},{"p":"D","f":"F160W","m":22.05,"c":0.685},{"p":"D","f":"F160W","m":22.35,"c":0.616},{"p":"D","f":"F160W","m":22.65,"c":0.538},{"p":"D","f":"F160W","m":22.94,"c":0.461},{"p":"D","f":"F160W","m":23.24,"c":0.383},{"p":"D","f":"F160W","m":23.54,"c":0.314},{"p":"D","f":"F160W","m":23.92,"c":0.245},{"p":"D","f":"F160W","m":24.29,"c":0.185},{"p":"D","f":"F160W","m":24.74,"c":0.125},{"p":"D","f":"F160W","m":25.19,"c":0.073},{"p":"D","f":"F160W","m":25.64,"c":0.026},{"p":"D","f":"F160W","m":26.08,"c":0.009},{"p":"D","f":"F160W","m":26.53,"c":0},{"p":"D","f":"F160W","m":30,"c":0}
]},
"spacing":{"row":24,"column":27},
"columns":2,
"concat":[
{"width":446,"height":465,
"resolve":{"scale":{"x":"independent","y":"independent"},"axis":{"x":"independent","y":"independent"}},
"layer":[
{"data":{"name":"cf"},"transform":[{"filter":"datum.p=='A'"}],"mark":{"type":"line","strokeWidth":2,"clip":true},
"encoding":{"x":{"field":"m","type":"quantitative","scale":{"domain":[10,30],"nice":false,"zero":false},"axis":{"orient":"bottom","values":[15,20,25],"ticks":false,"labelPadding":16,"title":"Apparent Magnitude","titleFont":"Liberation Mono","titleFontSize":30,"titleY":74,"titleBaseline":"alphabetic"}},
"y":{"field":"c","type":"quantitative","scale":{"domain":[-0.1,1.1],"nice":false,"zero":false},"axis":{"orient":"left","values":[0,0.2,0.4,0.6,0.8,1],"format":"~g","ticks":false,"labelPadding":15,"title":"C","titleAngle":270,"titleX":-90,"titleY":238,"titleAlign":"center","titleBaseline":"alphabetic"}},
"color":{"field":"f","type":"nominal","scale":{"domain":["F275W","F36W","F555W","F658N","F775W_ACS","F775W_UVIS","F110W","F160W"],"range":["#000000","#8f3ff0","#1b4f8e","#5cb5f5","#14e614","#c6650c","#ff1a1a","#ff14ff"]},"legend":null}}},
{"data":{"values":[]},"mark":"point","encoding":{"x":{"field":"m","type":"quantitative","scale":{"domain":[10,30],"nice":false,"zero":false},"axis":{"orient":"bottom","values":[15,20,25],"labels":false,"tickSize":-12,"title":null}},"y":{"field":"c","type":"quantitative","scale":{"domain":[-0.1,1.1],"nice":false,"zero":false},"axis":{"orient":"left","values":[0,0.2,0.4,0.6,0.8,1],"labels":false,"tickSize":-20,"title":"f","titleFontSize":16,"titleAngle":270,"titleX":-79,"titleY":226,"titleAlign":"center","titleBaseline":"alphabetic"}}}},
{"data":{"values":[]},"mark":"point","encoding":{"x":{"field":"m","type":"quantitative","scale":{"domain":[10,30],"nice":false,"zero":false},"axis":{"orient":"bottom","values":[11,12,13,14,16,17,18,19,21,22,23,24,26,27,28,29],"labels":false,"tickSize":-8,"title":null}},"y":{"field":"c","type":"quantitative","scale":{"domain":[-0.1,1.1],"nice":false,"zero":false},"axis":{"orient":"left","values":[-0.05,0.05,0.1,0.15,0.25,0.3,0.35,0.45,0.5,0.55,0.65,0.7,0.75,0.85,0.9,0.95,1.05],"labels":false,"tickSize":-11,"title":null}}}},
{"data":{"values":[]},"mark":"point","encoding":{"x":{"field":"m","type":"quantitative","scale":{"domain":[10,30],"nice":false,"zero":false},"axis":{"orient":"top","values":[15,20,25],"labels":false,"tickSize":-18,"title":null}},"y":{"field":"c","type":"quantitative","scale":{"domain":[-0.1,1.1],"nice":false,"zero":false},"axis":{"orient":"right","values":[0,0.2,0.4,0.6,0.8,1],"labels":false,"tickSize":-20,"title":null}}}},
{"data":{"values":[]},"mark":"point","encoding":{"x":{"field":"m","type":"quantitative","scale":{"domain":[10,30],"nice":false,"zero":false},"axis":{"orient":"top","values":[11,12,13,14,16,17,18,19,21,22,23,24,26,27,28,29],"labels":false,"tickSize":-11,"title":null}},"y":{"field":"c","type":"quantitative","scale":{"domain":[-0.1,1.1],"nice":false,"zero":false},"axis":{"orient":"right","values":[-0.05,0.05,0.1,0.15,0.25,0.3,0.35,0.45,0.5,0.55,0.65,0.7,0.75,0.85,0.9,0.95,1.05],"labels":false,"tickSize":-10,"title":null}}}},
{"data":{"name":"leg"},"mark":{"type":"rule","strokeWidth":2},"encoding":{"x":{"datum":12,"type":"quantitative","scale":{"domain":[10,30],"nice":false,"zero":false},"axis":null},"x2":{"datum":15},"y":{"field":"r","type":"quantitative","scale":{"domain":[-1,11],"reverse":true,"nice":false,"zero":false},"axis":null},"color":{"field":"f","type":"nominal","legend":null}}},
{"data":{"name":"leg"},"mark":{"type":"text","align":"left","baseline":"alphabetic","font":"DejaVu Serif","fontWeight":"bold","fontSize":15,"dy":1,"color":"#000"},"encoding":{"x":{"datum":15.45,"type":"quantitative","scale":{"domain":[10,30],"nice":false,"zero":false},"axis":null},"y":{"field":"r","type":"quantitative","scale":{"domain":[-1,11],"reverse":true,"nice":false,"zero":false},"axis":null},"text":{"field":"t"}}},
{"data":{"name":"leg"},"transform":[{"filter":"datum.s!=''"}],"mark":{"type":"text","align":"left","baseline":"alphabetic","font":"DejaVu Serif","fontWeight":"bold","fontSize":8,"dx":56,"dy":7,"color":"#000"},"encoding":{"x":{"datum":15.45,"type":"quantitative","scale":{"domain":[10,30],"nice":false,"zero":false},"axis":null},"y":{"field":"r","type":"quantitative","scale":{"domain":[-1,11],"reverse":true,"nice":false,"zero":false},"axis":null},"text":{"field":"s"}}},
{"data":{"values":[{"n":"NGC 2060"}]},"mark":{"type":"text","align":"left","baseline":"alphabetic","font":"DejaVu Serif","fontSize":30,"dy":2,"color":"#000"},"encoding":{"x":{"datum":12,"type":"quantitative","scale":{"domain":[10,30],"nice":false,"zero":false},"axis":null},"y":{"datum":0,"type":"quantitative","scale":{"domain":[-0.1,1.1],"nice":false,"zero":false},"axis":null},"text":{"field":"n"}}}
]},
{"width":446,"height":465,
"resolve":{"scale":{"x":"independent","y":"independent"},"axis":{"x":"independent","y":"independent"}},
"layer":[
{"data":{"name":"cf"},"transform":[{"filter":"datum.p=='B'"}],"mark":{"type":"line","strokeWidth":2,"clip":true},
"encoding":{"x":{"field":"m","type":"quantitative","scale":{"domain":[10,30],"nice":false,"zero":false},"axis":{"orient":"bottom","values":[15,20,25],"ticks":false,"labelPadding":16,"title":"Apparent Magnitude","titleFont":"Liberation Mono","titleFontSize":30,"titleY":74,"titleBaseline":"alphabetic"}},
"y":{"field":"c","type":"quantitative","scale":{"domain":[-0.1,1.1],"nice":false,"zero":false},"axis":{"orient":"left","values":[0,0.2,0.4,0.6,0.8,1],"format":"~g","ticks":false,"labelPadding":15,"title":"C","titleAngle":270,"titleX":-90,"titleY":238,"titleAlign":"center","titleBaseline":"alphabetic"}},
"color":{"field":"f","type":"nominal","scale":{"domain":["F275W","F36W","F555W","F658N","F775W_ACS","F775W_UVIS","F110W","F160W"],"range":["#000000","#8f3ff0","#1b4f8e","#5cb5f5","#14e614","#c6650c","#ff1a1a","#ff14ff"]},"legend":null}}},
{"data":{"values":[]},"mark":"point","encoding":{"x":{"field":"m","type":"quantitative","scale":{"domain":[10,30],"nice":false,"zero":false},"axis":{"orient":"bottom","values":[15,20,25],"labels":false,"tickSize":-12,"title":null}},"y":{"field":"c","type":"quantitative","scale":{"domain":[-0.1,1.1],"nice":false,"zero":false},"axis":{"orient":"left","values":[0,0.2,0.4,0.6,0.8,1],"labels":false,"tickSize":-20,"title":"f","titleFontSize":16,"titleAngle":270,"titleX":-78,"titleY":226,"titleAlign":"center","titleBaseline":"alphabetic"}}}},
{"data":{"values":[]},"mark":"point","encoding":{"x":{"field":"m","type":"quantitative","scale":{"domain":[10,30],"nice":false,"zero":false},"axis":{"orient":"bottom","values":[11,12,13,14,16,17,18,19,21,22,23,24,26,27,28,29],"labels":false,"tickSize":-8,"title":null}},"y":{"field":"c","type":"quantitative","scale":{"domain":[-0.1,1.1],"nice":false,"zero":false},"axis":{"orient":"left","values":[-0.05,0.05,0.1,0.15,0.25,0.3,0.35,0.45,0.5,0.55,0.65,0.7,0.75,0.85,0.9,0.95,1.05],"labels":false,"tickSize":-11,"title":null}}}},
{"data":{"values":[]},"mark":"point","encoding":{"x":{"field":"m","type":"quantitative","scale":{"domain":[10,30],"nice":false,"zero":false},"axis":{"orient":"top","values":[15,20,25],"labels":false,"tickSize":-18,"title":null}},"y":{"field":"c","type":"quantitative","scale":{"domain":[-0.1,1.1],"nice":false,"zero":false},"axis":{"orient":"right","values":[0,0.2,0.4,0.6,0.8,1],"labels":false,"tickSize":-20,"title":null}}}},
{"data":{"values":[]},"mark":"point","encoding":{"x":{"field":"m","type":"quantitative","scale":{"domain":[10,30],"nice":false,"zero":false},"axis":{"orient":"top","values":[11,12,13,14,16,17,18,19,21,22,23,24,26,27,28,29],"labels":false,"tickSize":-11,"title":null}},"y":{"field":"c","type":"quantitative","scale":{"domain":[-0.1,1.1],"nice":false,"zero":false},"axis":{"orient":"right","values":[-0.05,0.05,0.1,0.15,0.25,0.3,0.35,0.45,0.5,0.55,0.65,0.7,0.75,0.85,0.9,0.95,1.05],"labels":false,"tickSize":-10,"title":null}}}},
{"data":{"name":"leg"},"mark":{"type":"rule","strokeWidth":2},"encoding":{"x":{"datum":12,"type":"quantitative","scale":{"domain":[10,30],"nice":false,"zero":false},"axis":null},"x2":{"datum":15},"y":{"field":"r","type":"quantitative","scale":{"domain":[-1,11],"reverse":true,"nice":false,"zero":false},"axis":null},"color":{"field":"f","type":"nominal","legend":null}}},
{"data":{"name":"leg"},"mark":{"type":"text","align":"left","baseline":"alphabetic","font":"DejaVu Serif","fontWeight":"bold","fontSize":15,"dy":1,"color":"#000"},"encoding":{"x":{"datum":15.45,"type":"quantitative","scale":{"domain":[10,30],"nice":false,"zero":false},"axis":null},"y":{"field":"r","type":"quantitative","scale":{"domain":[-1,11],"reverse":true,"nice":false,"zero":false},"axis":null},"text":{"field":"t"}}},
{"data":{"name":"leg"},"transform":[{"filter":"datum.s!=''"}],"mark":{"type":"text","align":"left","baseline":"alphabetic","font":"DejaVu Serif","fontWeight":"bold","fontSize":8,"dx":56,"dy":7,"color":"#000"},"encoding":{"x":{"datum":15.45,"type":"quantitative","scale":{"domain":[10,30],"nice":false,"zero":false},"axis":null},"y":{"field":"r","type":"quantitative","scale":{"domain":[-1,11],"reverse":true,"nice":false,"zero":false},"axis":null},"text":{"field":"s"}}},
{"data":{"values":[{"n":"Field"}]},"mark":{"type":"text","align":"left","baseline":"alphabetic","font":"DejaVu Serif","fontSize":30,"dy":2,"color":"#000"},"encoding":{"x":{"datum":12,"type":"quantitative","scale":{"domain":[10,30],"nice":false,"zero":false},"axis":null},"y":{"datum":0,"type":"quantitative","scale":{"domain":[-0.1,1.1],"nice":false,"zero":false},"axis":null},"text":{"field":"n"}}}
]},
{"width":449,"height":476,"view":{"stroke":null},
"resolve":{"scale":{"x":"independent","y":"independent"},"axis":{"x":"independent","y":"independent"}},
"layer":[
{"data":{"name":"cf"},"transform":[{"filter":"datum.p=='C'"}],"mark":{"type":"line","strokeWidth":2,"clip":false},
"encoding":{"x":{"field":"m","type":"quantitative","scale":{"domain":[10.08,29.87],"range":[-13,449],"nice":false,"zero":false},"axis":{"orient":"bottom","values":[15,20,25],"ticks":false,"labelPadding":16,"title":"Apparent Magnitude","titleFont":"Liberation Mono","titleFontSize":30,"titleY":69,"titleBaseline":"alphabetic"}},
"y":{"field":"c","type":"quantitative","scale":{"domain":[-0.1,1.1],"nice":false,"zero":false},"axis":{"orient":"left","offset":13,"values":[0,0.2,0.4,0.6,0.8,1],"format":"~g","ticks":false,"labelPadding":13,"title":"C","titleAngle":270,"titleX":-84,"titleY":245,"titleAlign":"center","titleBaseline":"alphabetic"}},
"color":{"field":"f","type":"nominal","scale":{"domain":["F275W","F36W","F555W","F658N","F775W_ACS","F775W_UVIS","F110W","F160W"],"range":["#000000","#8f3ff0","#1b4f8e","#5cb5f5","#14e614","#c6650c","#ff1a1a","#ff14ff"]},"legend":null}}},
{"data":{"values":[]},"mark":"point","encoding":{"x":{"field":"m","type":"quantitative","scale":{"domain":[10.08,29.87],"range":[-13,449],"nice":false,"zero":false},"axis":{"orient":"bottom","values":[15,20,25],"labels":false,"tickSize":-12,"title":null}},"y":{"field":"c","type":"quantitative","scale":{"domain":[-0.1,1.1],"nice":false,"zero":false},"axis":{"orient":"left","offset":13,"values":[0,0.2,0.4,0.6,0.8,1],"labels":false,"tickSize":-20,"title":"f","titleFontSize":16,"titleAngle":270,"titleX":-73,"titleY":232,"titleAlign":"center","titleBaseline":"alphabetic"}}}},
{"data":{"values":[]},"mark":"point","encoding":{"x":{"field":"m","type":"quantitative","scale":{"domain":[10.08,29.87],"range":[-13,449],"nice":false,"zero":false},"axis":{"orient":"bottom","values":[11,12,13,14,16,17,18,19,21,22,23,24,26,27,28,29],"labels":false,"tickSize":-8,"title":null}},"y":{"field":"c","type":"quantitative","scale":{"domain":[-0.1,1.1],"nice":false,"zero":false},"axis":{"orient":"left","offset":13,"values":[-0.05,0.05,0.1,0.15,0.25,0.3,0.35,0.45,0.5,0.55,0.65,0.7,0.75,0.85,0.9,0.95,1.05],"labels":false,"tickSize":-11,"title":null}}}},
{"data":{"values":[]},"mark":"point","encoding":{"x":{"field":"m","type":"quantitative","scale":{"domain":[10.08,29.87],"range":[-13,449],"nice":false,"zero":false},"axis":{"orient":"top","values":[15,20,25],"labels":false,"tickSize":-18,"title":null}},"y":{"field":"c","type":"quantitative","scale":{"domain":[-0.1,1.1],"nice":false,"zero":false},"axis":{"orient":"right","values":[0,0.2,0.4,0.6,0.8,1],"labels":false,"tickSize":-20,"title":null}}}},
{"data":{"values":[]},"mark":"point","encoding":{"x":{"field":"m","type":"quantitative","scale":{"domain":[10.08,29.87],"range":[-13,449],"nice":false,"zero":false},"axis":{"orient":"top","values":[11,12,13,14,16,17,18,19,21,22,23,24,26,27,28,29],"labels":false,"tickSize":-11,"title":null}},"y":{"field":"c","type":"quantitative","scale":{"domain":[-0.1,1.1],"nice":false,"zero":false},"axis":{"orient":"right","values":[-0.05,0.05,0.1,0.15,0.25,0.3,0.35,0.45,0.5,0.55,0.65,0.7,0.75,0.85,0.9,0.95,1.05],"labels":false,"tickSize":-10,"title":null}}}},
{"data":{"name":"leg"},"mark":{"type":"rule","strokeWidth":2},"encoding":{"x":{"datum":12,"type":"quantitative","scale":{"domain":[10.08,29.87],"range":[-13,449],"nice":false,"zero":false},"axis":null},"x2":{"datum":15},"y":{"field":"r","type":"quantitative","scale":{"domain":[-1,11],"reverse":true,"nice":false,"zero":false},"axis":null},"color":{"field":"f","type":"nominal","legend":null}}},
{"data":{"name":"leg"},"mark":{"type":"text","align":"left","baseline":"alphabetic","font":"DejaVu Serif","fontWeight":"bold","fontSize":15,"dy":1,"color":"#000"},"encoding":{"x":{"datum":15.45,"type":"quantitative","scale":{"domain":[10.08,29.87],"range":[-13,449],"nice":false,"zero":false},"axis":null},"y":{"field":"r","type":"quantitative","scale":{"domain":[-1,11],"reverse":true,"nice":false,"zero":false},"axis":null},"text":{"field":"t"}}},
{"data":{"name":"leg"},"transform":[{"filter":"datum.s!=''"}],"mark":{"type":"text","align":"left","baseline":"alphabetic","font":"DejaVu Serif","fontWeight":"bold","fontSize":8,"dx":56,"dy":7,"color":"#000"},"encoding":{"x":{"datum":15.45,"type":"quantitative","scale":{"domain":[10.08,29.87],"range":[-13,449],"nice":false,"zero":false},"axis":null},"y":{"field":"r","type":"quantitative","scale":{"domain":[-1,11],"reverse":true,"nice":false,"zero":false},"axis":null},"text":{"field":"s"}}},
{"data":{"values":[{"n":"NGC 2070"}]},"mark":{"type":"text","align":"left","baseline":"alphabetic","font":"DejaVu Serif","fontSize":30,"dy":2,"color":"#000"},"encoding":{"x":{"datum":12,"type":"quantitative","scale":{"domain":[10.08,29.87],"range":[-13,449],"nice":false,"zero":false},"axis":null},"y":{"datum":0,"type":"quantitative","scale":{"domain":[-0.1,1.1],"nice":false,"zero":false},"axis":null},"text":{"field":"n"}}},
{"data":{"values":[{"n":"frame"}]},"mark":{"type":"rect","filled":false,"color":"#000","strokeWidth":2.5,"clip":false},"encoding":{"x":{"datum":10.08,"type":"quantitative","scale":{"domain":[10.08,29.87],"range":[-13,449],"nice":false,"zero":false},"axis":null},"x2":{"datum":29.87},"y":{"datum":-0.1,"type":"quantitative","scale":{"domain":[-0.1,1.1],"nice":false,"zero":false},"axis":null},"y2":{"datum":1.1}}}
]},
{"width":446,"height":465,
"resolve":{"scale":{"x":"independent","y":"independent"},"axis":{"x":"independent","y":"independent"}},
"layer":[
{"data":{"name":"cf"},"transform":[{"filter":"datum.p=='D'"}],"mark":{"type":"line","strokeWidth":2,"clip":true},
"encoding":{"x":{"field":"m","type":"quantitative","scale":{"domain":[10,30],"nice":false,"zero":false},"axis":{"orient":"bottom","values":[15,20,25],"ticks":false,"labelPadding":16,"title":"Apparent Magnitude","titleFont":"Liberation Mono","titleFontSize":30,"titleY":74,"titleBaseline":"alphabetic"}},
"y":{"field":"c","type":"quantitative","scale":{"domain":[-0.1,1.1],"nice":false,"zero":false},"axis":{"orient":"left","values":[0,0.2,0.4,0.6,0.8,1],"format":"~g","ticks":false,"labelPadding":15,"title":"C","titleAngle":270,"titleX":-90,"titleY":240,"titleAlign":"center","titleBaseline":"alphabetic"}},
"color":{"field":"f","type":"nominal","scale":{"domain":["F275W","F36W","F555W","F658N","F775W_ACS","F775W_UVIS","F110W","F160W"],"range":["#000000","#8f3ff0","#1b4f8e","#5cb5f5","#14e614","#c6650c","#ff1a1a","#ff14ff"]},"legend":null}}},
{"data":{"values":[]},"mark":"point","encoding":{"x":{"field":"m","type":"quantitative","scale":{"domain":[10,30],"nice":false,"zero":false},"axis":{"orient":"bottom","values":[15,20,25],"labels":false,"tickSize":-12,"title":null}},"y":{"field":"c","type":"quantitative","scale":{"domain":[-0.1,1.1],"nice":false,"zero":false},"axis":{"orient":"left","values":[0,0.2,0.4,0.6,0.8,1],"labels":false,"tickSize":-20,"title":"f","titleFontSize":16,"titleAngle":270,"titleX":-78,"titleY":227,"titleAlign":"center","titleBaseline":"alphabetic"}}}},
{"data":{"values":[]},"mark":"point","encoding":{"x":{"field":"m","type":"quantitative","scale":{"domain":[10,30],"nice":false,"zero":false},"axis":{"orient":"bottom","values":[11,12,13,14,16,17,18,19,21,22,23,24,26,27,28,29],"labels":false,"tickSize":-8,"title":null}},"y":{"field":"c","type":"quantitative","scale":{"domain":[-0.1,1.1],"nice":false,"zero":false},"axis":{"orient":"left","values":[-0.05,0.05,0.1,0.15,0.25,0.3,0.35,0.45,0.5,0.55,0.65,0.7,0.75,0.85,0.9,0.95,1.05],"labels":false,"tickSize":-11,"title":null}}}},
{"data":{"values":[]},"mark":"point","encoding":{"x":{"field":"m","type":"quantitative","scale":{"domain":[10,30],"nice":false,"zero":false},"axis":{"orient":"top","values":[15,20,25],"labels":false,"tickSize":-18,"title":null}},"y":{"field":"c","type":"quantitative","scale":{"domain":[-0.1,1.1],"nice":false,"zero":false},"axis":{"orient":"right","values":[0,0.2,0.4,0.6,0.8,1],"labels":false,"tickSize":-20,"title":null}}}},
{"data":{"values":[]},"mark":"point","encoding":{"x":{"field":"m","type":"quantitative","scale":{"domain":[10,30],"nice":false,"zero":false},"axis":{"orient":"top","values":[11,12,13,14,16,17,18,19,21,22,23,24,26,27,28,29],"labels":false,"tickSize":-11,"title":null}},"y":{"field":"c","type":"quantitative","scale":{"domain":[-0.1,1.1],"nice":false,"zero":false},"axis":{"orient":"right","values":[-0.05,0.05,0.1,0.15,0.25,0.3,0.35,0.45,0.5,0.55,0.65,0.7,0.75,0.85,0.9,0.95,1.05],"labels":false,"tickSize":-10,"title":null}}}},
{"data":{"name":"leg"},"mark":{"type":"rule","strokeWidth":2},"encoding":{"x":{"datum":12,"type":"quantitative","scale":{"domain":[10,30],"nice":false,"zero":false},"axis":null},"x2":{"datum":15},"y":{"field":"r","type":"quantitative","scale":{"domain":[-1,11],"reverse":true,"nice":false,"zero":false},"axis":null},"color":{"field":"f","type":"nominal","legend":null}}},
{"data":{"name":"leg"},"mark":{"type":"text","align":"left","baseline":"alphabetic","font":"DejaVu Serif","fontWeight":"bold","fontSize":15,"dy":1,"color":"#000"},"encoding":{"x":{"datum":15.45,"type":"quantitative","scale":{"domain":[10,30],"nice":false,"zero":false},"axis":null},"y":{"field":"r","type":"quantitative","scale":{"domain":[-1,11],"reverse":true,"nice":false,"zero":false},"axis":null},"text":{"field":"t"}}},
{"data":{"name":"leg"},"transform":[{"filter":"datum.s!=''"}],"mark":{"type":"text","align":"left","baseline":"alphabetic","font":"DejaVu Serif","fontWeight":"bold","fontSize":8,"dx":56,"dy":7,"color":"#000"},"encoding":{"x":{"datum":15.45,"type":"quantitative","scale":{"domain":[10,30],"nice":false,"zero":false},"axis":null},"y":{"field":"r","type":"quantitative","scale":{"domain":[-1,11],"reverse":true,"nice":false,"zero":false},"axis":null},"text":{"field":"s"}}},
{"data":{"values":[{"n":"Hodge 301"}]},"mark":{"type":"text","align":"left","baseline":"alphabetic","font":"DejaVu Serif","fontSize":30,"dy":2,"color":"#000"},"encoding":{"x":{"datum":12,"type":"quantitative","scale":{"domain":[10,30],"nice":false,"zero":false},"axis":null},"y":{"datum":0,"type":"quantitative","scale":{"domain":[-0.1,1.1],"nice":false,"zero":false},"axis":null},"text":{"field":"n"}}}
]}
]
}
